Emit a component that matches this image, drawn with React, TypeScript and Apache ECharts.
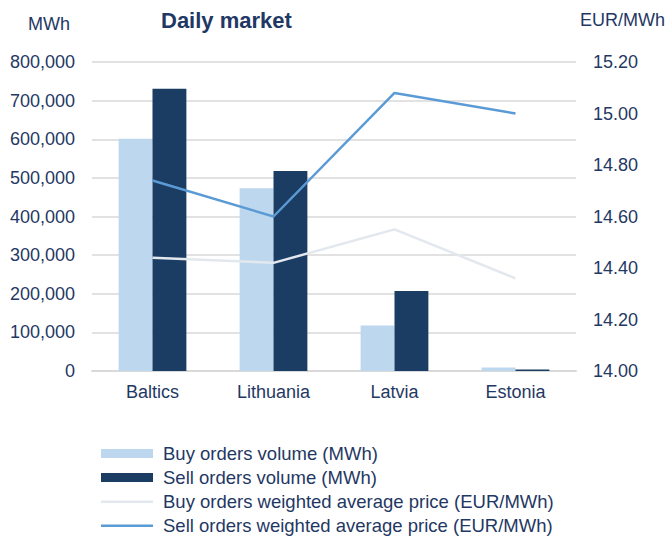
import React, { useEffect, useRef } from "react";
import * as echarts from "echarts";

const categories = ["Baltics", "Lithuania", "Latvia", "Estonia"];
const buyVolume = [601000, 473000, 118000, 9000];
const sellVolume = [731000, 518000, 207000, 4000];
const buyPrice = [14.44, 14.42, 14.55, 14.36];
const sellPrice = [14.74, 14.6, 15.08, 15.0];
const seriesNames = [
  "Buy orders volume (MWh)",
  "Sell orders volume (MWh)",
  "Buy orders weighted average price (EUR/MWh)",
  "Sell orders weighted average price (EUR/MWh)",
];

const TEXT = "#1F3864";
const FONT = "'Liberation Sans', Arial, sans-serif";
const LINE_ICON =
  "path://M0,0L0.01,0L0,0.01ZM0,3.5L52,3.5L52,6L0,6ZM52,9L51.99,9L52,8.99Z";

export default function App() {
  const ref = useRef<HTMLDivElement>(null);
  useEffect(() => {
    if (!ref.current) return;
    const chart = echarts.init(ref.current, null, { renderer: "svg" });
    chart.setOption({
      animation: false,
      backgroundColor: "#ffffff",
      textStyle: { fontFamily: FONT, color: TEXT },
      graphic: [
        {
          type: "text",
          left: 161,
          top: 9,
          style: { text: "Daily market", font: `bold 22px ${FONT}`, fill: TEXT },
        },
        {
          type: "text",
          left: 28,
          top: 15,
          style: { text: "MWh", font: `18px ${FONT}`, fill: TEXT },
        },
        {
          type: "text",
          left: 580,
          top: 11,
          style: { text: "EUR/MWh", font: `18px ${FONT}`, fill: TEXT },
        },
      ],
      legend: {
        orient: "vertical",
        left: 101,
        top: 444,
        height: 100,
        padding: 0,
        itemWidth: 52,
        itemHeight: 9,
        itemGap: 5,
        textStyle: { fontFamily: FONT, fontSize: 18.5, color: TEXT, padding: [0, 0, 0, 5] },
        data: [
          { name: seriesNames[0], icon: "rect" },
          { name: seriesNames[1], icon: "rect" },
          { name: seriesNames[2], icon: LINE_ICON },
          { name: seriesNames[3], icon: LINE_ICON },
        ],
      },
      grid: { left: 92, right: 93, top: 62, bottom: 169 },
      xAxis: {
        type: "category",
        data: categories,
        axisTick: { show: false },
        axisLine: { lineStyle: { color: "#D9D9D9", width: 2 } },
        axisLabel: { color: TEXT, fontSize: 18, fontFamily: FONT, margin: 12 },
      },
      yAxis: [
        {
          type: "value",
          min: 0,
          max: 800000,
          interval: 100000,
          axisLine: { show: false },
          axisTick: { show: false },
          splitLine: { lineStyle: { color: "#D9D9D9", width: 1.5 } },
          axisLabel: {
            color: TEXT,
            fontSize: 18,
            fontFamily: FONT,
            margin: 17,
            formatter: (v: number) => v.toLocaleString("en-US"),
          },
        },
        {
          type: "value",
          min: 14.0,
          max: 15.2,
          interval: 0.2,
          axisLine: { show: false },
          axisTick: { show: false },
          splitLine: { show: false },
          axisLabel: {
            color: TEXT,
            fontSize: 18,
            fontFamily: FONT,
            margin: 17,
            formatter: (v: number) => v.toFixed(2),
          },
        },
      ],
      series: [
        {
          name: seriesNames[0],
          type: "bar",
          data: buyVolume,
          barGap: "0%",
          barCategoryGap: "44%",
          itemStyle: { color: "#BDD7EE" },
        },
        {
          name: seriesNames[1],
          type: "bar",
          data: sellVolume,
          barGap: "0%",
          barCategoryGap: "44%",
          itemStyle: { color: "#1C3D63" },
        },
        {
          name: seriesNames[2],
          type: "line",
          yAxisIndex: 1,
          data: buyPrice,
          symbol: "none",
          lineStyle: { color: "#E3E8EE", width: 2.5 },
          itemStyle: { color: "#E3E8EE" },
        },
        {
          name: seriesNames[3],
          type: "line",
          yAxisIndex: 1,
          data: sellPrice,
          symbol: "none",
          lineStyle: { color: "#5B9BD5", width: 2.5 },
          itemStyle: { color: "#5B9BD5" },
        },
      ],
    });
    return () => chart.dispose();
  }, []);
  return <div ref={ref} style={{ width: 669, height: 540, position: "absolute", left: 0, top: 0 }} />;
}
